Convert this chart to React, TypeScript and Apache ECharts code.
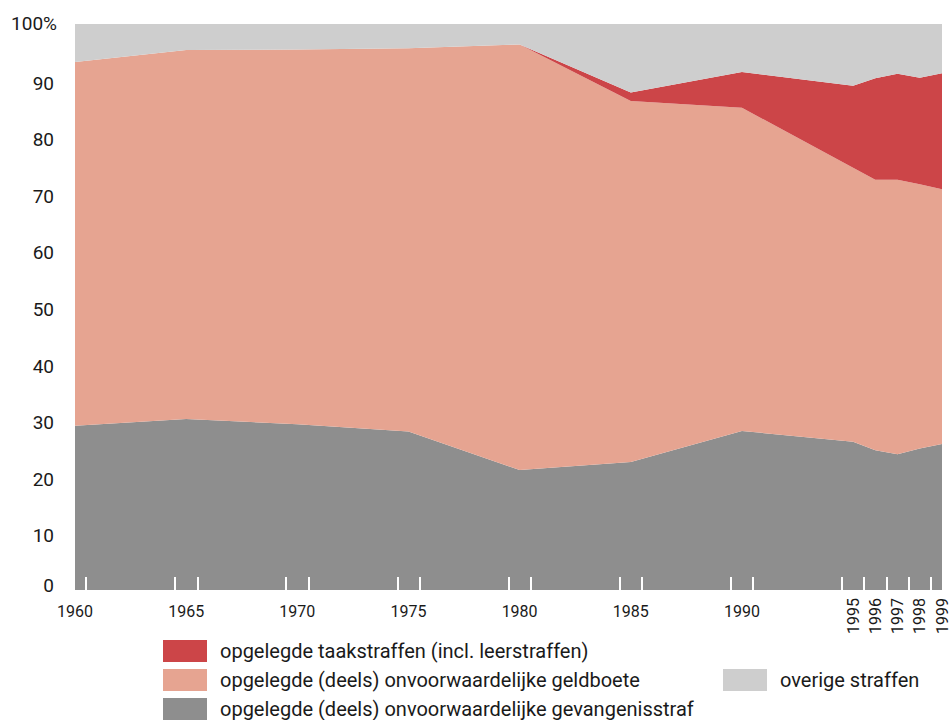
import React, { useEffect, useRef } from "react";
import * as echarts from "echarts";

const years = [1960, 1965, 1970, 1975, 1980, 1985, 1990, 1995, 1996, 1997, 1998, 1999];
const gevangenisstraf = [29.0, 30.2, 29.3, 28.0, 21.2, 22.6, 28.1, 26.2, 24.7, 24.0, 25.0, 25.8];
const geldboete = [64.3, 65.2, 66.2, 67.7, 75.2, 63.8, 57.1, 48.4, 47.8, 48.5, 46.7, 45.0];
const taakstraffen = [0, 0, 0, 0, 0, 1.5, 6.3, 14.5, 17.9, 18.7, 18.8, 20.5];
const overige = [6.7, 4.6, 4.5, 4.3, 3.6, 12.1, 8.5, 10.9, 9.6, 8.8, 9.5, 8.7];

const horizontalLabelYears = [1960, 1965, 1970, 1975, 1980, 1985, 1990];
const verticalLabelYears = [1995, 1996, 1997, 1998, 1999];

const NAME_TAAK = "opgelegde taakstraffen (incl. leerstraffen)";
const NAME_GELD = "opgelegde (deels) onvoorwaardelijke geldboete";
const NAME_GEV = "opgelegde (deels) onvoorwaardelijke gevangenisstraf";
const NAME_OV = "overige straffen";

const FONT = "Roboto, 'Liberation Sans', sans-serif";

export default function App() {
  const ref = useRef<HTMLDivElement>(null);
  useEffect(() => {
    if (!ref.current) return;
    const chart = echarts.init(ref.current, null, { renderer: "svg" });
    const minYear = years[0];
    const maxYear = years[years.length - 1];
    const tickSet = new Set<number>();
    [...horizontalLabelYears, ...verticalLabelYears].forEach((y) => {
      [y - 0.5, y + 0.5].forEach((t) => {
        if (t > minYear && t < maxYear) tickSet.add(t);
      });
    });
    const tickValues = Array.from(tickSet).sort((a, b) => a - b);
    // value first so that the stack is applied to the value dimension
    const pairs = (arr: number[]) => years.map((y, i) => [arr[i], y]);
    const mk = (name: string, arr: number[], color: string) => ({
      name,
      type: "line",
      stack: "total",
      data: pairs(arr),
      encode: { x: 1, y: 0 },
      showSymbol: false,
      symbol: "none",
      lineStyle: { width: 0 },
      areaStyle: { color, opacity: 1 },
      itemStyle: { color },
      emphasis: { disabled: true },
    });
    const legendText = {
      fontFamily: FONT,
      fontSize: 20,
      lineHeight: 22,
      color: "#1a1a1a",
      padding: [0, 0, 0, 8],
    };
    const yLab = { fontFamily: FONT, fontSize: 19, color: "#1a1a1a" };
    chart.setOption({
      animation: false,
      grid: { left: 75, right: 7, top: 24, bottom: 130 },
      xAxis: [
        {
          type: "value",
          min: minYear,
          max: maxYear,
          z: 10,
          splitLine: { show: false },
          axisLine: { show: false },
          axisTick: {
            show: true,
            inside: true,
            length: 13,
            customValues: tickValues,
            lineStyle: { color: "#ffffff", width: 2 },
          },
          axisLabel: {
            customValues: horizontalLabelYears,
            margin: 13,
            fontFamily: FONT,
            fontSize: 16,
            color: "#1a1a1a",
            formatter: (v: number) => String(v),
          },
        },
        {
          type: "value",
          min: minYear,
          max: maxYear,
          position: "bottom",
          splitLine: { show: false },
          axisLine: { show: false },
          axisTick: { show: false },
          axisLabel: {
            customValues: verticalLabelYears,
            rotate: 90,
            margin: 8,
            fontFamily: FONT,
            fontSize: 16,
            color: "#1a1a1a",
            formatter: (v: number) => String(v),
          },
        },
      ],
      yAxis: {
        type: "value",
        min: 0,
        max: 100,
        interval: 10,
        splitLine: { show: false },
        axisLine: { show: false },
        axisTick: { show: false },
        axisLabel: {
          margin: 18,
          ...yLab,
          formatter: (v: number) =>
            v === 100 ? "{top|100%}" : v === 0 ? "{zero|0}" : "{mid|" + v + "}",
          rich: {
            top: { ...yLab, padding: [0, 0, 2, 0] },
            zero: { ...yLab, padding: [0, 3, 10, 0] },
            mid: { ...yLab, padding: [5, 3, 0, 0] },
          },
        },
      },
      legend: [
        {
          data: [NAME_TAAK, NAME_GELD, NAME_GEV],
          orient: "vertical",
          left: 163,
          top: 640,
          height: 120,
          padding: 0,
          itemWidth: 44,
          itemHeight: 22,
          itemGap: 7,
          icon: "rect",
          selectedMode: false,
          textStyle: legendText,
        },
        {
          data: [NAME_OV],
          orient: "vertical",
          left: 723,
          top: 669,
          height: 60,
          padding: 0,
          itemWidth: 44,
          itemHeight: 22,
          icon: "rect",
          selectedMode: false,
          textStyle: legendText,
        },
      ],
      series: [
        mk(NAME_GEV, gevangenisstraf, "#8e8e8e"),
        mk(NAME_GELD, geldboete, "#e6a491"),
        mk(NAME_TAAK, taakstraffen, "#cc4548"),
        mk(NAME_OV, overige, "#cecece"),
      ],
    });
    return () => chart.dispose();
  }, []);
  return <div ref={ref} style={{ width: 950, height: 720, position: "absolute", left: 0, top: 0 }} />;
}
